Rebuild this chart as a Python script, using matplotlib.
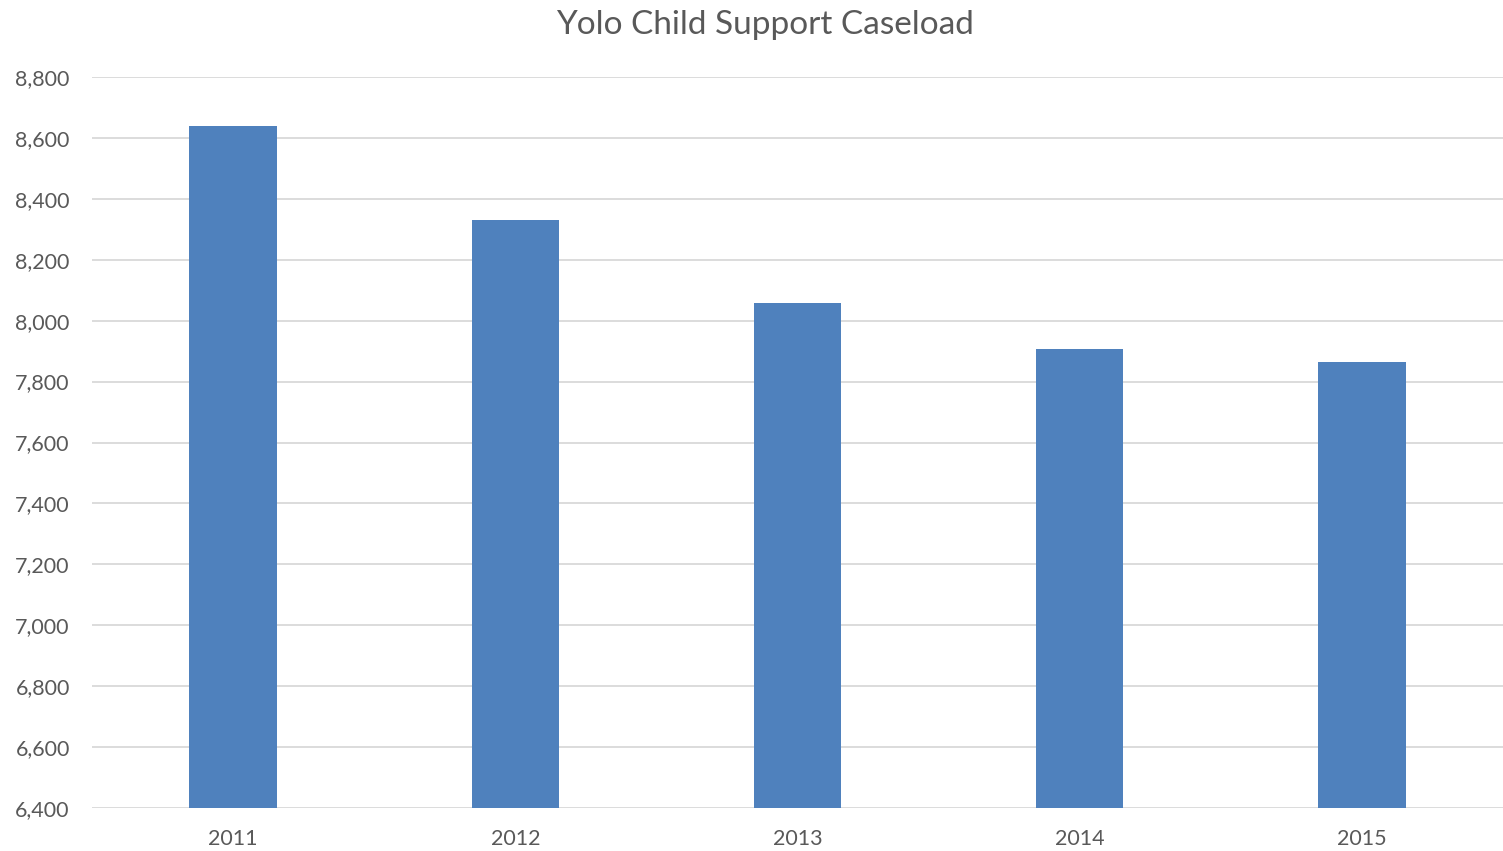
import matplotlib
matplotlib.use('Agg')
import matplotlib.pyplot as plt
from matplotlib.ticker import FuncFormatter

plt.rcParams['font.family'] = ['Lato', 'DejaVu Sans']

years = ['2011', '2012', '2013', '2014', '2015']
caseload = [8640, 8330, 8057, 7908, 7864]

TX = '#595959'
fig = plt.figure(figsize=(15.03, 8.51), dpi=100)
ax = fig.add_axes([92/1503, 1 - 808/851, 1 - 92/1503, (808 - 77)/851])

x = range(len(years))
ax.bar(x, caseload, width=0.31, color='#4F81BD', zorder=3)
ax.set_xlim(-0.5, len(years) - 0.5)
ax.set_ylim(6400, 8800)
ax.set_yticks(range(6400, 8801, 200))
ax.yaxis.set_major_formatter(FuncFormatter(lambda v, p: f'{int(v):,}'))
ax.set_xticks(list(x))
ax.set_xticklabels(years)
ax.grid(axis='y', color='#D9D9D9', lw=1.3, zorder=0)
for s in ax.spines.values():
    s.set_visible(False)
ax.tick_params(axis='both', length=0, labelsize=15.5, colors=TX)
ax.tick_params(axis='y', pad=16)
ax.tick_params(axis='x', pad=15)
fig.text(0.509, 0.971, 'Yolo Child Support Caseload', ha='center', va='center',
         fontsize=24, color=TX)

fig.savefig('out.png', dpi=100)
